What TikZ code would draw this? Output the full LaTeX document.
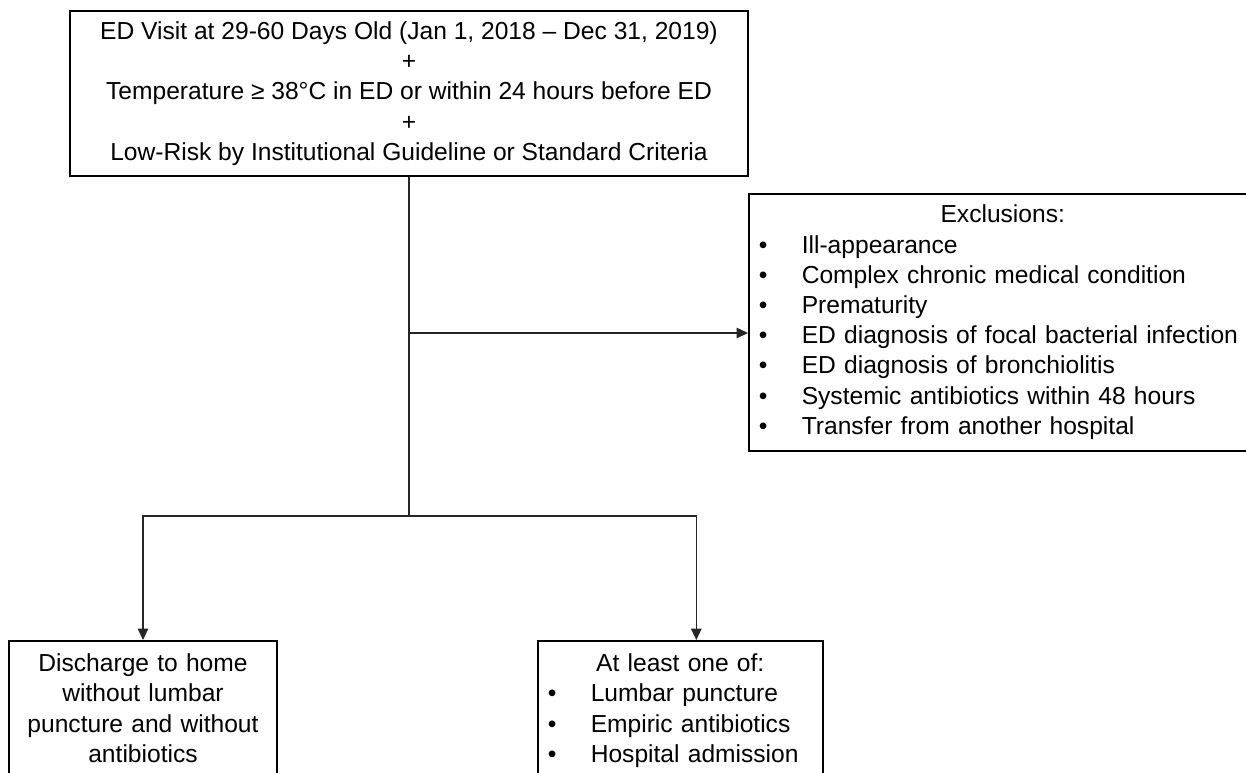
\documentclass[tikz,border=0pt]{standalone}
\usepackage{fontspec}
\setmainfont{Liberation Sans}
\usetikzlibrary{arrows.meta,positioning,calc}

% bullet line inside a box
\newcommand{\bitem}[1]{\hspace*{0.2cm}\makebox[0.86cm][l]{\textbullet}#1}

\begin{document}
\begin{tikzpicture}[x=0.02cm, y=-0.02cm,
    box/.style={draw=black, line width=0.9pt, inner xsep=0pt, font=\fontsize{14.0}{17.2}\selectfont},
    link/.style={draw=black!85, line width=0.6pt},
    arr/.style={link, -{Triangle[length=6.5pt,width=6pt]}}]

    \useasboundingbox (0,0) rectangle (1246,772);

    % Inclusion criteria
    \node[box, align=center, minimum width=13.56cm, minimum height=3.3cm] (incl) at (409,93.5) {
        ED Visit at 29-60 Days Old (Jan 1, 2018 – Dec 31, 2019)\\
        +\\
        Temperature ≥ 38°C in ED or within 24 hours before ED\\
        +\\
        Low-Risk by Institutional Guideline or Standard Criteria
    };

    % Exclusions
    \node[box, text width=10.16cm, align=left, minimum height=5.14cm, anchor=north west] (excl) at (748,193) {
        \makebox[10.16cm]{Exclusions:}\\
        \bitem{Ill-appearance}\\
        \bitem{Complex chronic medical condition}\\
        \bitem{Prematurity}\\
        \bitem{ED diagnosis of focal bacterial infection}\\
        \bitem{ED diagnosis of bronchiolitis}\\
        \bitem{Systemic antibiotics within 48 hours}\\
        \bitem{Transfer from another hospital}
    };

    % Outcomes
    \node[box, text width=5.36cm, align=center, inner ysep=0.26cm, anchor=north] (home) at (143,640) {
        Discharge to home\\
        without lumbar\\
        puncture and without\\
        antibiotics
    };

    \node[box, text width=5.7cm, align=left, inner ysep=0.26cm, anchor=north west] (treat) at (537,640) {
        \makebox[5.7cm]{At least one of:}\\
        \bitem{Lumbar puncture}\\
        \bitem{Empiric antibiotics}\\
        \bitem{Hospital admission}
    };

    % Connectors
    \coordinate (split) at (409,516);
    \coordinate (side) at (409,333);
    \coordinate (treattop) at ($(treat.north west)!0.556!(treat.north east)$);

    \draw[link] (incl.south) -- (split);
    \draw[arr] (side) -- (side -| excl.west);
    \draw[arr] (split) -| (home.north);
    \draw[arr] (split) -| (treattop);
\end{tikzpicture}
\end{document}
